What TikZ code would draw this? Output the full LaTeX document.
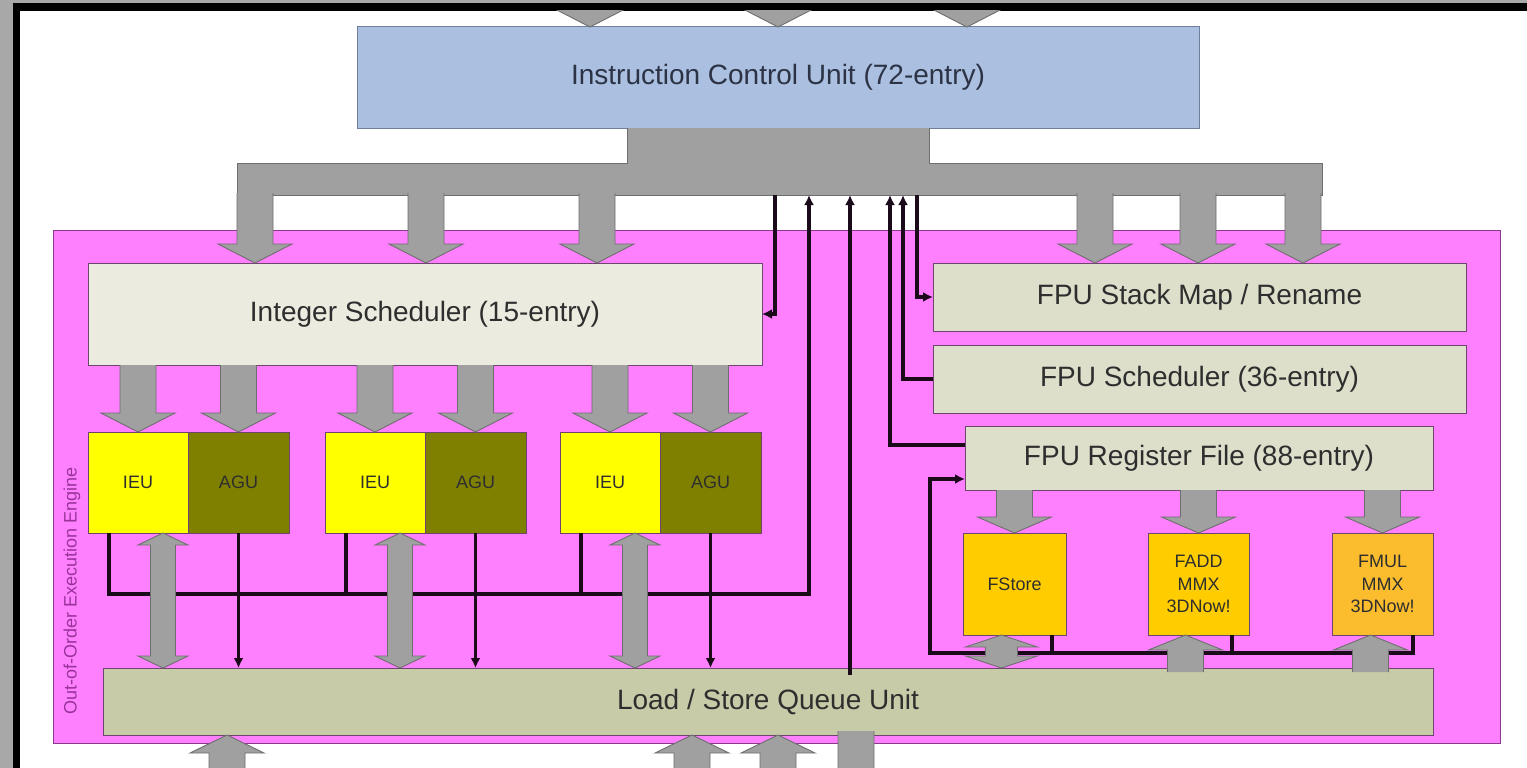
\documentclass[tikz,border=0pt]{standalone}
\usepackage{fontspec}
\setmainfont{Liberation Sans}
\usetikzlibrary{calc,arrows.meta}

\definecolor{framegray}{HTML}{A8A8A8}
\definecolor{icublue}{HTML}{ABBFE0}
\definecolor{iculine}{HTML}{6F7F99}
\definecolor{icutxt}{HTML}{2B3344}
\definecolor{ooopink}{HTML}{FF80FF}
\definecolor{pinkline}{HTML}{8A3A8A}
\definecolor{oootxt}{HTML}{993399}
\definecolor{boxline}{HTML}{6E456E}
\definecolor{ischcol}{HTML}{EBEBE0}
\definecolor{fpubox}{HTML}{DDDFCB}
\definecolor{lsqcol}{HTML}{C8CBA8}
\definecolor{ieuyel}{HTML}{FFFF00}
\definecolor{aguolive}{HTML}{808000}
\definecolor{fpuorg}{HTML}{FFCC00}
\definecolor{fmulorg}{HTML}{FBBD2E}
\definecolor{arrgray}{HTML}{A0A0A0}
\definecolor{arrline}{HTML}{6E6E6E}
\definecolor{wirec}{HTML}{1A0A1A}
\definecolor{txt}{HTML}{2E2E2E}

% block arrows: [head length]{x}{from}{to}
\newcommand{\blkdn}[4][19]{%
  \filldraw[blk] let \p1=(#3), \p2=(#4) in
    (#2-18pt,\y1) -- (#2-18pt,\y2+#1pt) -- (#2-37pt,\y2+#1pt) -- (#2,\y2)
    -- (#2+37pt,\y2+#1pt) -- (#2+18pt,\y2+#1pt) -- (#2+18pt,\y1);}
\newcommand{\blkup}[4][18]{%
  \filldraw[blk] let \p1=(#3), \p2=(#4) in
    (#2-18pt,\y1) -- (#2-18pt,\y2-#1pt) -- (#2-37pt,\y2-#1pt) -- (#2,\y2)
    -- (#2+37pt,\y2-#1pt) -- (#2+18pt,\y2-#1pt) -- (#2+18pt,\y1);}
% double arrow: {top}{bottom}{shaft half}{head half}
\newcommand{\blkdbl}[4]{%
  \filldraw[blk] let \p1=(#1), \p2=(#2) in
    (\x1,\y1) -- (\x1+#4pt,\y1-12pt) -- (\x1+#3pt,\y1-12pt) -- (\x1+#3pt,\y2+12pt)
    -- (\x1+#4pt,\y2+12pt) -- (\x1,\y2) -- (\x1-#4pt,\y2+12pt) -- (\x1-#3pt,\y2+12pt)
    -- (\x1-#3pt,\y1-12pt) -- (\x1-#4pt,\y1-12pt) -- cycle;}

\begin{document}
\begin{tikzpicture}[x=1pt,y=-1pt,
    box/.style={draw=boxline,line width=1pt,inner sep=0pt,outer sep=0pt,text=txt},
    big/.style={font=\fontsize{28}{32}\selectfont},
    small/.style={font=\fontsize{18}{22.5}\selectfont,align=center},
    blk/.style={fill=arrgray,draw=arrline,line width=.9pt},
    wire/.style={draw=wirec,line width=3.4pt},
    wtip/.style={-{Latex[length=10pt,width=10pt]}}]
    \useasboundingbox (0,0) rectangle (1527,768);
    \fill[framegray] (0,0) rectangle (1527,768);
    \fill[black] (13,3) rectangle (1527,768);
    \fill[white] (20,11) rectangle (1527,768);
    \begin{scope}
    \clip (20,11) rectangle (1527,768);
    \coordinate (intop) at (0,0);
    \coordinate (inbot) at (0,800);
    \coordinate (outbot) at (0,810);

    % instruction control unit and its bus
    \node[box,draw=iculine,fill=icublue,minimum width=842pt,minimum height=101pt,
        big,text=icutxt] (icu) at (778,77.5) {Instruction Control Unit (72-entry)};
    \foreach \px in {590,778,967} {\blkdn{\px pt}{intop}{icu.north}}
    \node[box,draw=pinkline,fill=ooopink,minimum width=1447pt,minimum height=513pt]
        (ooo) at (776.5,486.5) {};
    \node[rotate=90,font=\fontsize{18}{20}\selectfont,text=oootxt] (ooolbl)
        at (72,591) {Out-of-Order Execution Engine};
    \coordinate (busL) at (237,163);
    \coordinate (busR) at (1322,195);
    \filldraw[blk] (icu.south) ++(-151,0) |- (busL) |- (busR)
        |- ($(icu.south)+(151,35)$) -- ++(0,-35);

    % schedulers
    \node[box,fill=ischcol,minimum width=674pt,minimum height=102pt,big]
        (isched) at (425,314) {Integer Scheduler (15-entry)};
    \node[box,fill=fpubox,minimum width=533pt,minimum height=68pt,big]
        (fsm) at (1199.5,297) {FPU Stack Map / Rename};
    \node[box,fill=fpubox,minimum width=533pt,minimum height=68pt,big]
        (fsch) at (1199.5,379) {FPU Scheduler (36-entry)};
    \node[box,fill=fpubox,minimum width=468pt,minimum height=64pt,big]
        (fprf) at (1199,458) {FPU Register File (88-entry)};
    \foreach \px in {255,426,597} {\blkdn{\px pt}{[yshift=2pt]busR}{isched.north}}
    \foreach \px in {1095,1198,1303} {\blkdn{\px pt}{[yshift=2pt]busR}{fsm.north}}

    \node[box,fill=lsqcol,minimum width=1330pt,minimum height=67pt,big]
        (lsq) at (768,701.5) {Load / Store Queue Unit};

    % integer units
    \coordinate (res) at (809,594);
    \foreach \k/\gx in {1/88,2/325,3/560} {
        \node[box,fill=ieuyel,minimum width=100pt,minimum height=101pt,small]
            (ieu\k) at (\gx+50,482.5) {IEU};
        \node[box,fill=aguolive,minimum width=101pt,minimum height=101pt,small]
            (agu\k) at (\gx+150.5,482.5) {AGU};
        \blkdn{\x2}{isched.south}{ieu\k.north}
        \blkdn{\x2}{isched.south}{agu\k.north}
        \coordinate (r\k) at ([xshift=21pt]ieu\k.south west);
        \draw[wire] (r\k) -- (r\k |- res);
        \draw[wire,wtip] (agu\k.south) -- (agu\k.south |- lsq.north);
    }
    \coordinate (t1) at (775,195);
    \coordinate (t2) at (809,195);
    \coordinate (t3) at (850,195);
    \coordinate (t4) at (890,195);
    \coordinate (t5) at (903,195);
    \coordinate (t6) at (917,195);
    \draw[wire,wtip] (r1) |- (res) -- (t2);
    \foreach \k in {1,2,3} {\blkdbl{[xshift=-25pt]ieu\k.south east}{lsq.north}{12.5}{25}}

    % fpu units
    \node[box,fill=fpuorg,minimum width=103pt,minimum height=102pt,small]
        (fst) at (1014.5,584) {FStore};
    \node[box,fill=fpuorg,minimum width=101pt,minimum height=102pt,small]
        (fadd) at (1198.5,584) {FADD\\MMX\\3DNow!};
    \node[box,fill=fmulorg,minimum width=101pt,minimum height=102pt,small]
        (fmul) at (1382.5,584) {FMUL\\MMX\\3DNow!};
    \foreach \u in {fst,fadd,fmul} {\blkdn[16]{\x2}{fprf.south}{\u.north}}
    \coordinate (fb) at (930,653);
    \coordinate (f1) at ([xshift=-14pt]fst.south east);
    \coordinate (f2) at ([xshift=-17pt]fadd.south east);
    \draw[wire] (f1) -- (f1 |- fb);
    \draw[wire] (f2) -- (f2 |- fb);
    \draw[wire,wtip] ([xshift=-20pt]fmul.south east) |- (fb)
        |- ($(fprf.west)+(0,21)$);
    \blkdbl{[xshift=-13pt]fst.south}{lsq.north}{16}{36}
    \blkup[15]{\x2-13pt}{[yshift=-4pt]lsq.north}{fadd.south}
    \blkup[15]{\x2-12pt}{[yshift=-4pt]lsq.north}{fmul.south}

    % control wires to and from the icu
    \draw[wire,wtip] (t1) |- (isched.east);
    \draw[wire,wtip] ($(t3 |- lsq.north)+(0,7)$) -- (t3);
    \draw[wire,wtip] ($(fprf.west)+(0,-13)$) -| (t4);
    \draw[wire,wtip] (fsch.west) -| (t5);
    \draw[wire,wtip] (t6) |- (fsm.west);

    % lines in and out below
    \foreach \px in {227,692,778} {\blkup{\px pt}{inbot}{lsq.south}}
    \blkdn{856pt}{[yshift=4pt]lsq.south}{outbot}
    \end{scope}
\end{tikzpicture}
\end{document}
